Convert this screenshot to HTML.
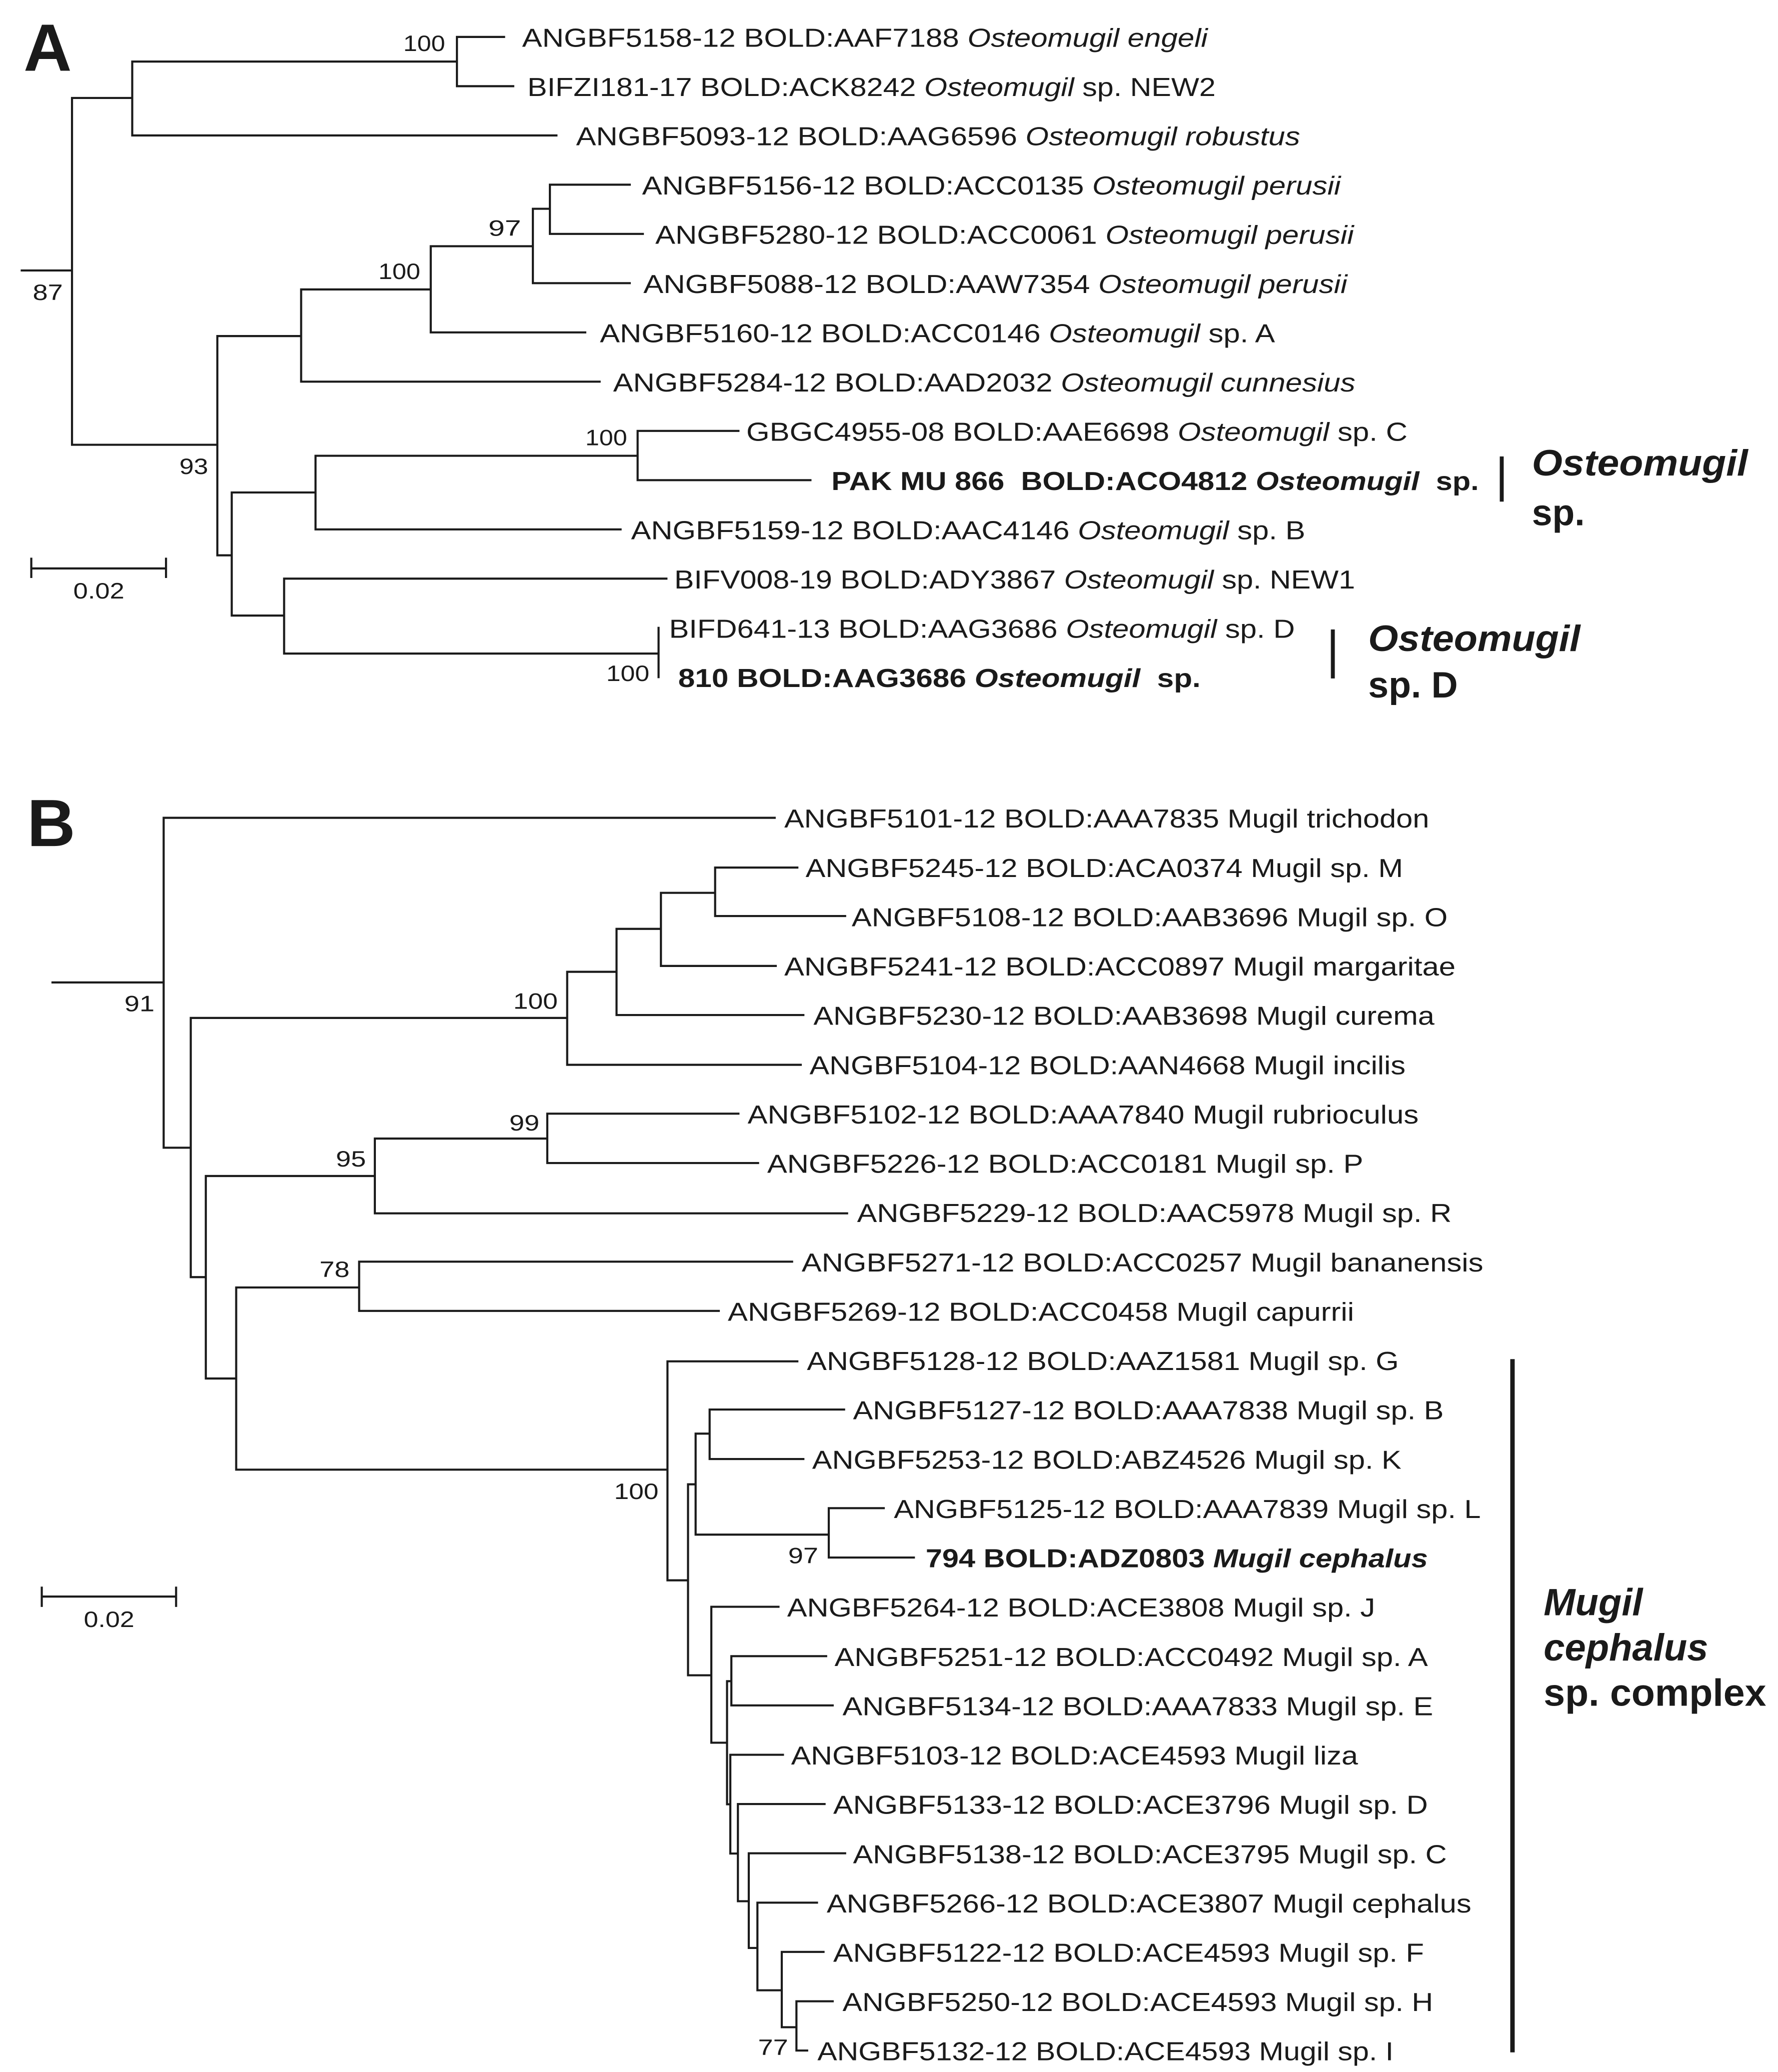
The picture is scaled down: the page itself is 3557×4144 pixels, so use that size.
<!DOCTYPE html>
<html><head><meta charset="utf-8"><style>
html,body{margin:0;padding:0;background:#fff;}
svg{display:block;}
text{font-family:"Liberation Sans",Arial,sans-serif;fill:#1a1a1a;}
.l{font-size:20px;}
.n{font-size:17px;}
.b{font-weight:bold;}
.i{font-style:italic;}
</style></head><body>
<svg width="3557" height="4144" viewBox="0 0 1358 1582" preserveAspectRatio="none" xmlns="http://www.w3.org/2000/svg">
<rect width="1358" height="1582" fill="#fff"/>
<g stroke="#1a1a1a" stroke-width="1.6" fill="none" stroke-linecap="square">
<path d="M16.6 206.5H55M55 74.8V339.6M55 74.8H101M101 47V103.4M101 47H349M349 28.2V65.8M349 28.2H385M349 65.8H392M101 103.4H425
M55 339.6H166M166 256.6V424M166 256.6H230M230 221V291.4M230 221H329M230 291.4H458M329 188V253.8M329 188H407M329 253.8H447M407 159.4V216.2M407 159.4H420M407 216.2H481M420 141V178.6M420 141H481M420 178.6H491
M166 424H177M177 376V470M177 376H241M241 348V404.2M241 348H487M241 404.2H474M487 329V366.6M487 329H564M487 366.6H619M177 470H217M217 441.8V499M217 441.8H509M217 499H503M503 479.4V517
M23.9 434H126.8M23.9 426.6V440.5M126.8 426.6V440.5"/>
<path d="M40.1 750.1H125M125 624.4V876.3M125 624.4H591.7M125 876.3H145.7M145.7 777.2V975.1M145.7 777.2H433.2M433.2 742V813M433.2 742H470.9M433.2 813H611.6M470.9 709.2V775M470.9 709.2H504.8M470.9 775H613.6M504.8 681.7V737.5M504.8 681.7H546.2M504.8 737.5H592.5M546.2 662.4V699.4M546.2 662.4H609M546.2 699.4H645.5
M145.7 975.1H157.2M157.2 897.9V1052.5M157.2 897.9H286.3M286.3 869.3V926.4M286.3 869.3H418M286.3 926.4H647M418 850.3V888M418 850.3H564M418 888H579
M157.2 1052.5H180.4M180.4 983V1122.1M180.4 983H274.3M274.3 963.3V1000.9M274.3 963.3H605M274.3 1000.9H549
M180.4 1122.1H509.8M509.8 1039.4V1206.6M509.8 1039.4H609M509.8 1206.6H525.5M525.5 1133.3V1279.1M525.5 1133.3H531.3M531.3 1094.6V1171.7M531.3 1094.6H542M542 1076.2V1114M542 1076.2H644.7M542 1114H613.6M531.3 1171.7H633M633 1151.5V1189.2M633 1151.5H675M633 1189.2H698
M525.5 1279.1H543.3M543.3 1226.8V1330.6M543.3 1226.8H594.6M543.3 1330.6H555.3M555.3 1283.6V1377.6M555.3 1283.6H558.6M558.6 1264.5V1302.1M558.6 1264.5H631M558.6 1302.1H636M555.3 1377.6H557.8M557.8 1339.8V1415.2M557.8 1339.8H598M557.8 1415.2H563.6M563.6 1377.4V1451.6M563.6 1377.4H629.8M563.6 1451.6H571.9M571.9 1415V1487.3M571.9 1415H645.5M571.9 1487.3H578.5M578.5 1452.7V1519.6M578.5 1452.7H624M578.5 1519.6H597.1M597.1 1490.3V1547.8M597.1 1490.3H629M597.1 1547.8H608.3M608.3 1528V1565.6M608.3 1528H636M608.3 1565.6H616.5
M31.9 1219H134.5M31.9 1212.2V1226.1M134.5 1212.2V1226.1"/>
</g>
<g fill="#1a1a1a">
<rect x="1145.5" y="348.5" width="3" height="34.5"/>
<rect x="1016.5" y="480.6" width="3" height="37.4"/>
<rect x="1153.5" y="1037.7" width="3.4" height="529.3"/>
</g>
<!-- panel letters -->
<text x="18" y="54" class="b" style="font-size:51px">A</text>
<text x="20.7" y="646" class="b" style="font-size:51px">B</text>
<!-- A labels -->
<g class="l">
<text x="398.8" y="35.7" textLength="523.6" lengthAdjust="spacingAndGlyphs">ANGBF5158-12 BOLD:AAF7188 <tspan class="i">Osteomugil engeli</tspan></text>
<text x="402.8" y="73.3" textLength="525.7" lengthAdjust="spacingAndGlyphs">BIFZI181-17 BOLD:ACK8242 <tspan class="i">Osteomugil</tspan> sp. NEW2</text>
<text x="440" y="110.9" textLength="553" lengthAdjust="spacingAndGlyphs">ANGBF5093-12 BOLD:AAG6596 <tspan class="i">Osteomugil robustus</tspan></text>
<text x="490.4" y="148.5" textLength="533.6" lengthAdjust="spacingAndGlyphs">ANGBF5156-12 BOLD:ACC0135 <tspan class="i">Osteomugil perusii</tspan></text>
<text x="500.5" y="186.1" textLength="533.5" lengthAdjust="spacingAndGlyphs">ANGBF5280-12 BOLD:ACC0061 <tspan class="i">Osteomugil perusii</tspan></text>
<text x="491.4" y="223.7" textLength="537.6" lengthAdjust="spacingAndGlyphs">ANGBF5088-12 BOLD:AAW7354 <tspan class="i">Osteomugil perusii</tspan></text>
<text x="458.2" y="261.3" textLength="515.6" lengthAdjust="spacingAndGlyphs">ANGBF5160-12 BOLD:ACC0146 <tspan class="i">Osteomugil</tspan> sp. A</text>
<text x="468.3" y="298.9" textLength="566.9" lengthAdjust="spacingAndGlyphs">ANGBF5284-12 BOLD:AAD2032 <tspan class="i">Osteomugil cunnesius</tspan></text>
<text x="570" y="336.5" textLength="505" lengthAdjust="spacingAndGlyphs">GBGC4955-08 BOLD:AAE6698 <tspan class="i">Osteomugil</tspan> sp. C</text>
<text x="635" y="374.1" class="b" textLength="494.5" lengthAdjust="spacingAndGlyphs" xml:space="preserve">PAK MU 866  BOLD:ACO4812 <tspan class="i">Osteomugil</tspan>  sp.</text>
<text x="482" y="411.7" textLength="515" lengthAdjust="spacingAndGlyphs">ANGBF5159-12 BOLD:AAC4146 <tspan class="i">Osteomugil</tspan> sp. B</text>
<text x="515" y="449.3" textLength="520" lengthAdjust="spacingAndGlyphs">BIFV008-19 BOLD:ADY3867 <tspan class="i">Osteomugil</tspan> sp. NEW1</text>
<text x="511" y="486.9" textLength="478" lengthAdjust="spacingAndGlyphs">BIFD641-13 BOLD:AAG3686 <tspan class="i">Osteomugil</tspan> sp. D</text>
<text x="518" y="524.5" class="b" textLength="399" lengthAdjust="spacingAndGlyphs" xml:space="preserve">810 BOLD:AAG3686 <tspan class="i">Osteomugil</tspan>  sp.</text>
</g>
<g class="n">
<text x="308" y="39" textLength="32" lengthAdjust="spacingAndGlyphs">100</text>
<text x="373" y="180" textLength="25" lengthAdjust="spacingAndGlyphs">97</text>
<text x="289" y="213" textLength="32" lengthAdjust="spacingAndGlyphs">100</text>
<text x="25" y="229" textLength="23" lengthAdjust="spacingAndGlyphs">87</text>
<text x="137" y="362" textLength="22" lengthAdjust="spacingAndGlyphs">93</text>
<text x="447" y="340" textLength="32" lengthAdjust="spacingAndGlyphs">100</text>
<text x="463" y="520" textLength="33" lengthAdjust="spacingAndGlyphs">100</text>
<text x="56" y="457" textLength="39" lengthAdjust="spacingAndGlyphs">0.02</text>
<text x="95" y="772.2" textLength="23" lengthAdjust="spacingAndGlyphs">91</text>
<text x="392" y="770.2" textLength="34" lengthAdjust="spacingAndGlyphs">100</text>
<text x="389" y="863.2" textLength="23" lengthAdjust="spacingAndGlyphs">99</text>
<text x="256.5" y="890.6" textLength="23" lengthAdjust="spacingAndGlyphs">95</text>
<text x="244" y="975" textLength="23" lengthAdjust="spacingAndGlyphs">78</text>
<text x="469" y="1144.6" textLength="34" lengthAdjust="spacingAndGlyphs">100</text>
<text x="602" y="1193.5" textLength="23" lengthAdjust="spacingAndGlyphs">97</text>
<text x="579" y="1569" textLength="23" lengthAdjust="spacingAndGlyphs">77</text>
<text x="64" y="1242.3" textLength="38.6" lengthAdjust="spacingAndGlyphs">0.02</text>
</g>
<!-- clade labels -->
<g class="b" style="font-size:28px">
<text x="1170" y="363" class="i" textLength="165" lengthAdjust="spacingAndGlyphs">Osteomugil</text>
<text x="1170" y="401">sp.</text>
<text x="1045" y="497" class="i" textLength="162" lengthAdjust="spacingAndGlyphs">Osteomugil</text>
<text x="1045" y="532.6">sp. D</text>
</g>
<g class="b" style="font-size:29px">
<text x="1179" y="1233.3" class="i">Mugil</text>
<text x="1179" y="1267.9" class="i">cephalus</text>
<text x="1179" y="1302.4" textLength="170" lengthAdjust="spacingAndGlyphs">sp. complex</text>
</g>
<!-- B labels -->
<g class="l">
<text x="599" y="631.9" textLength="492.6" lengthAdjust="spacingAndGlyphs">ANGBF5101-12 BOLD:AAA7835 Mugil trichodon</text>
<text x="615.3" y="669.6" textLength="456.3" lengthAdjust="spacingAndGlyphs">ANGBF5245-12 BOLD:ACA0374 Mugil sp. M</text>
<text x="650.5" y="707.2" textLength="455.2" lengthAdjust="spacingAndGlyphs">ANGBF5108-12 BOLD:AAB3696 Mugil sp. O</text>
<text x="599" y="744.9" textLength="512.7" lengthAdjust="spacingAndGlyphs">ANGBF5241-12 BOLD:ACC0897 Mugil margaritae</text>
<text x="621.3" y="782.5" textLength="474.3" lengthAdjust="spacingAndGlyphs">ANGBF5230-12 BOLD:AAB3698 Mugil curema</text>
<text x="618.3" y="820.2" textLength="455.2" lengthAdjust="spacingAndGlyphs">ANGBF5104-12 BOLD:AAN4668 Mugil incilis</text>
<text x="571" y="857.8" textLength="512.5" lengthAdjust="spacingAndGlyphs">ANGBF5102-12 BOLD:AAA7840 Mugil rubrioculus</text>
<text x="586" y="895.5" textLength="455.2" lengthAdjust="spacingAndGlyphs">ANGBF5226-12 BOLD:ACC0181 Mugil sp. P</text>
<text x="654.6" y="933.1" textLength="454.1" lengthAdjust="spacingAndGlyphs">ANGBF5229-12 BOLD:AAC5978 Mugil sp. R</text>
<text x="612.3" y="970.8" textLength="520.6" lengthAdjust="spacingAndGlyphs">ANGBF5271-12 BOLD:ACC0257 Mugil bananensis</text>
<text x="555.9" y="1008.4" textLength="478.3" lengthAdjust="spacingAndGlyphs">ANGBF5269-12 BOLD:ACC0458 Mugil capurrii</text>
<text x="616.3" y="1046.1" textLength="452.1" lengthAdjust="spacingAndGlyphs">ANGBF5128-12 BOLD:AAZ1581 Mugil sp. G</text>
<text x="651.5" y="1083.7" textLength="451.2" lengthAdjust="spacingAndGlyphs">ANGBF5127-12 BOLD:AAA7838 Mugil sp. B</text>
<text x="620.3" y="1121.4" textLength="450.1" lengthAdjust="spacingAndGlyphs">ANGBF5253-12 BOLD:ABZ4526 Mugil sp. K</text>
<text x="682.7" y="1159" textLength="448.3" lengthAdjust="spacingAndGlyphs">ANGBF5125-12 BOLD:AAA7839 Mugil sp. L</text>
<text x="707" y="1196.7" class="b" textLength="383.6" lengthAdjust="spacingAndGlyphs">794 BOLD:ADZ0803 <tspan class="i">Mugil cephalus</tspan></text>
<text x="601.2" y="1234.3" textLength="449.1" lengthAdjust="spacingAndGlyphs">ANGBF5264-12 BOLD:ACE3808 Mugil sp. J</text>
<text x="637.4" y="1272" textLength="453.2" lengthAdjust="spacingAndGlyphs">ANGBF5251-12 BOLD:ACC0492 Mugil sp. A</text>
<text x="643.5" y="1309.6" textLength="451.1" lengthAdjust="spacingAndGlyphs">ANGBF5134-12 BOLD:AAA7833 Mugil sp. E</text>
<text x="604.2" y="1347.3" textLength="433" lengthAdjust="spacingAndGlyphs">ANGBF5103-12 BOLD:ACE4593 Mugil liza</text>
<text x="636.4" y="1384.9" textLength="454.2" lengthAdjust="spacingAndGlyphs">ANGBF5133-12 BOLD:ACE3796 Mugil sp. D</text>
<text x="651.5" y="1422.6" textLength="453.6" lengthAdjust="spacingAndGlyphs">ANGBF5138-12 BOLD:ACE3795 Mugil sp. C</text>
<text x="631.4" y="1460.2" textLength="492.4" lengthAdjust="spacingAndGlyphs">ANGBF5266-12 BOLD:ACE3807 Mugil cephalus</text>
<text x="636.4" y="1497.9" textLength="451.2" lengthAdjust="spacingAndGlyphs">ANGBF5122-12 BOLD:ACE4593 Mugil sp. F</text>
<text x="643.5" y="1535.5" textLength="451.1" lengthAdjust="spacingAndGlyphs">ANGBF5250-12 BOLD:ACE4593 Mugil sp. H</text>
<text x="624.3" y="1573.1" textLength="440.1" lengthAdjust="spacingAndGlyphs">ANGBF5132-12 BOLD:ACE4593 Mugil sp. I</text>
</g>
</svg>
</body></html>
